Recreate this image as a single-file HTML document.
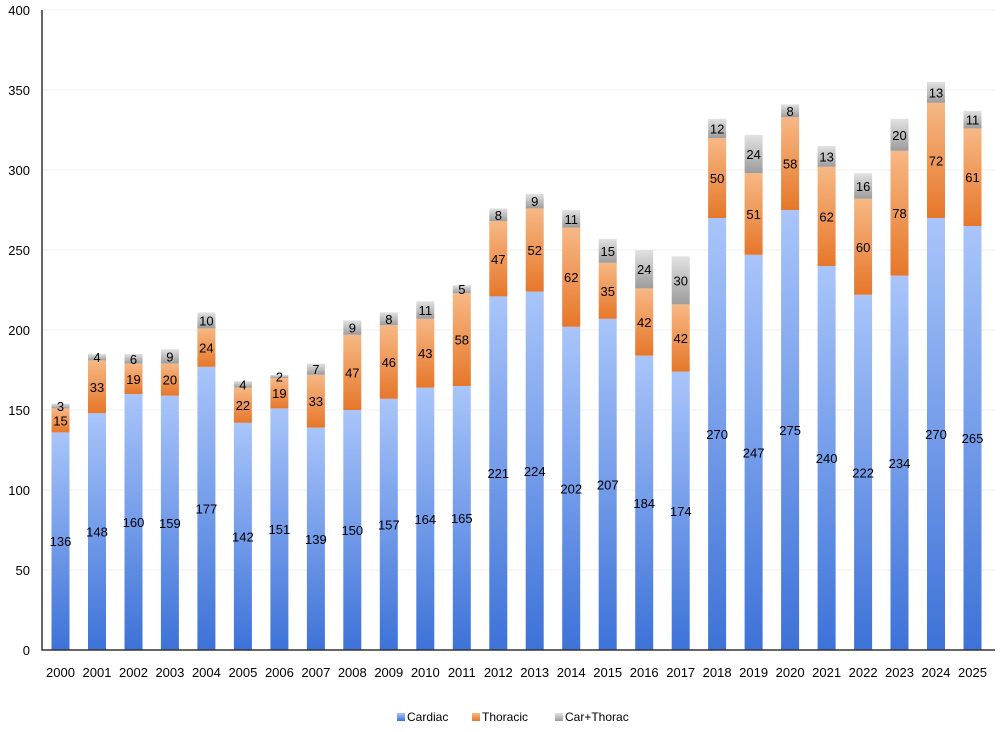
<!DOCTYPE html>
<html><head><meta charset="utf-8"><style>
body{margin:0;background:#fff;}
svg{display:block;font-family:"Liberation Sans",sans-serif;}
</style></head><body>
<svg width="1000" height="732" viewBox="0 0 1000 732">
<defs>
<linearGradient id="gc" x1="0" y1="0" x2="0" y2="1"><stop offset="0" stop-color="#a9c5fa"/><stop offset="1" stop-color="#3d72d8"/></linearGradient>
<linearGradient id="gt" x1="0" y1="0" x2="0" y2="1"><stop offset="0" stop-color="#f7b885"/><stop offset="1" stop-color="#e6772a"/></linearGradient>
<linearGradient id="gk" x1="0" y1="0" x2="0" y2="1"><stop offset="0" stop-color="#e2e2e2"/><stop offset="1" stop-color="#9c9c9c"/></linearGradient>
<symbol id="b"/>
</defs>
<g stroke="#f2f2f2" stroke-width="1">
<line x1="42" y1="570" x2="995" y2="570"/><line x1="42" y1="490" x2="995" y2="490"/><line x1="42" y1="410" x2="995" y2="410"/><line x1="42" y1="330" x2="995" y2="330"/><line x1="42" y1="250" x2="995" y2="250"/><line x1="42" y1="170" x2="995" y2="170"/><line x1="42" y1="90" x2="995" y2="90"/><line x1="42" y1="10" x2="995" y2="10"/>
</g>
<g font-size="13" text-anchor="end" fill="#000">
<text x="30" y="655">0</text><text x="30" y="575">50</text><text x="30" y="495">100</text><text x="30" y="415">150</text><text x="30" y="335">200</text><text x="30" y="255">250</text><text x="30" y="175">300</text><text x="30" y="95">350</text><text x="30" y="15">400</text>
</g>
<g id="bars">
<g transform="translate(60.5,650)"><g transform="scale(1,1.6)"><rect x="-9" width="18" y="-136" height="136" fill="url(#gc)"/><rect x="-9" width="18" y="-151" height="15" fill="url(#gt)"/><rect x="-9" width="18" y="-154" height="3" fill="url(#gk)"/></g></g>
<g transform="translate(97,650)"><g transform="scale(1,1.6)"><rect x="-9" width="18" y="-148" height="148" fill="url(#gc)"/><rect x="-9" width="18" y="-181" height="33" fill="url(#gt)"/><rect x="-9" width="18" y="-185" height="4" fill="url(#gk)"/></g></g>
<g transform="translate(133.5,650)"><g transform="scale(1,1.6)"><rect x="-9" width="18" y="-160" height="160" fill="url(#gc)"/><rect x="-9" width="18" y="-179" height="19" fill="url(#gt)"/><rect x="-9" width="18" y="-185" height="6" fill="url(#gk)"/></g></g>
<g transform="translate(169.9,650)"><g transform="scale(1,1.6)"><rect x="-9" width="18" y="-159" height="159" fill="url(#gc)"/><rect x="-9" width="18" y="-179" height="20" fill="url(#gt)"/><rect x="-9" width="18" y="-188" height="9" fill="url(#gk)"/></g></g>
<g transform="translate(206.4,650)"><g transform="scale(1,1.6)"><rect x="-9" width="18" y="-177" height="177" fill="url(#gc)"/><rect x="-9" width="18" y="-201" height="24" fill="url(#gt)"/><rect x="-9" width="18" y="-211" height="10" fill="url(#gk)"/></g></g>
<g transform="translate(242.9,650)"><g transform="scale(1,1.6)"><rect x="-9" width="18" y="-142" height="142" fill="url(#gc)"/><rect x="-9" width="18" y="-164" height="22" fill="url(#gt)"/><rect x="-9" width="18" y="-168" height="4" fill="url(#gk)"/></g></g>
<g transform="translate(279.4,650)"><g transform="scale(1,1.6)"><rect x="-9" width="18" y="-151" height="151" fill="url(#gc)"/><rect x="-9" width="18" y="-170" height="19" fill="url(#gt)"/><rect x="-9" width="18" y="-172" height="2" fill="url(#gk)"/></g></g>
<g transform="translate(315.9,650)"><g transform="scale(1,1.6)"><rect x="-9" width="18" y="-139" height="139" fill="url(#gc)"/><rect x="-9" width="18" y="-172" height="33" fill="url(#gt)"/><rect x="-9" width="18" y="-179" height="7" fill="url(#gk)"/></g></g>
<g transform="translate(352.3,650)"><g transform="scale(1,1.6)"><rect x="-9" width="18" y="-150" height="150" fill="url(#gc)"/><rect x="-9" width="18" y="-197" height="47" fill="url(#gt)"/><rect x="-9" width="18" y="-206" height="9" fill="url(#gk)"/></g></g>
<g transform="translate(388.8,650)"><g transform="scale(1,1.6)"><rect x="-9" width="18" y="-157" height="157" fill="url(#gc)"/><rect x="-9" width="18" y="-203" height="46" fill="url(#gt)"/><rect x="-9" width="18" y="-211" height="8" fill="url(#gk)"/></g></g>
<g transform="translate(425.3,650)"><g transform="scale(1,1.6)"><rect x="-9" width="18" y="-164" height="164" fill="url(#gc)"/><rect x="-9" width="18" y="-207" height="43" fill="url(#gt)"/><rect x="-9" width="18" y="-218" height="11" fill="url(#gk)"/></g></g>
<g transform="translate(461.8,650)"><g transform="scale(1,1.6)"><rect x="-9" width="18" y="-165" height="165" fill="url(#gc)"/><rect x="-9" width="18" y="-223" height="58" fill="url(#gt)"/><rect x="-9" width="18" y="-228" height="5" fill="url(#gk)"/></g></g>
<g transform="translate(498.3,650)"><g transform="scale(1,1.6)"><rect x="-9" width="18" y="-221" height="221" fill="url(#gc)"/><rect x="-9" width="18" y="-268" height="47" fill="url(#gt)"/><rect x="-9" width="18" y="-276" height="8" fill="url(#gk)"/></g></g>
<g transform="translate(534.7,650)"><g transform="scale(1,1.6)"><rect x="-9" width="18" y="-224" height="224" fill="url(#gc)"/><rect x="-9" width="18" y="-276" height="52" fill="url(#gt)"/><rect x="-9" width="18" y="-285" height="9" fill="url(#gk)"/></g></g>
<g transform="translate(571.2,650)"><g transform="scale(1,1.6)"><rect x="-9" width="18" y="-202" height="202" fill="url(#gc)"/><rect x="-9" width="18" y="-264" height="62" fill="url(#gt)"/><rect x="-9" width="18" y="-275" height="11" fill="url(#gk)"/></g></g>
<g transform="translate(607.7,650)"><g transform="scale(1,1.6)"><rect x="-9" width="18" y="-207" height="207" fill="url(#gc)"/><rect x="-9" width="18" y="-242" height="35" fill="url(#gt)"/><rect x="-9" width="18" y="-257" height="15" fill="url(#gk)"/></g></g>
<g transform="translate(644.2,650)"><g transform="scale(1,1.6)"><rect x="-9" width="18" y="-184" height="184" fill="url(#gc)"/><rect x="-9" width="18" y="-226" height="42" fill="url(#gt)"/><rect x="-9" width="18" y="-250" height="24" fill="url(#gk)"/></g></g>
<g transform="translate(680.7,650)"><g transform="scale(1,1.6)"><rect x="-9" width="18" y="-174" height="174" fill="url(#gc)"/><rect x="-9" width="18" y="-216" height="42" fill="url(#gt)"/><rect x="-9" width="18" y="-246" height="30" fill="url(#gk)"/></g></g>
<g transform="translate(717.1,650)"><g transform="scale(1,1.6)"><rect x="-9" width="18" y="-270" height="270" fill="url(#gc)"/><rect x="-9" width="18" y="-320" height="50" fill="url(#gt)"/><rect x="-9" width="18" y="-332" height="12" fill="url(#gk)"/></g></g>
<g transform="translate(753.6,650)"><g transform="scale(1,1.6)"><rect x="-9" width="18" y="-247" height="247" fill="url(#gc)"/><rect x="-9" width="18" y="-298" height="51" fill="url(#gt)"/><rect x="-9" width="18" y="-322" height="24" fill="url(#gk)"/></g></g>
<g transform="translate(790.1,650)"><g transform="scale(1,1.6)"><rect x="-9" width="18" y="-275" height="275" fill="url(#gc)"/><rect x="-9" width="18" y="-333" height="58" fill="url(#gt)"/><rect x="-9" width="18" y="-341" height="8" fill="url(#gk)"/></g></g>
<g transform="translate(826.6,650)"><g transform="scale(1,1.6)"><rect x="-9" width="18" y="-240" height="240" fill="url(#gc)"/><rect x="-9" width="18" y="-302" height="62" fill="url(#gt)"/><rect x="-9" width="18" y="-315" height="13" fill="url(#gk)"/></g></g>
<g transform="translate(863.1,650)"><g transform="scale(1,1.6)"><rect x="-9" width="18" y="-222" height="222" fill="url(#gc)"/><rect x="-9" width="18" y="-282" height="60" fill="url(#gt)"/><rect x="-9" width="18" y="-298" height="16" fill="url(#gk)"/></g></g>
<g transform="translate(899.5,650)"><g transform="scale(1,1.6)"><rect x="-9" width="18" y="-234" height="234" fill="url(#gc)"/><rect x="-9" width="18" y="-312" height="78" fill="url(#gt)"/><rect x="-9" width="18" y="-332" height="20" fill="url(#gk)"/></g></g>
<g transform="translate(936,650)"><g transform="scale(1,1.6)"><rect x="-9" width="18" y="-270" height="270" fill="url(#gc)"/><rect x="-9" width="18" y="-342" height="72" fill="url(#gt)"/><rect x="-9" width="18" y="-355" height="13" fill="url(#gk)"/></g></g>
<g transform="translate(972.5,650)"><g transform="scale(1,1.6)"><rect x="-9" width="18" y="-265" height="265" fill="url(#gc)"/><rect x="-9" width="18" y="-326" height="61" fill="url(#gt)"/><rect x="-9" width="18" y="-337" height="11" fill="url(#gk)"/></g></g>
</g>
<g font-size="13" text-anchor="middle" fill="#000">
<g transform="translate(60.5,650)"><text y="-103.8">136</text><text y="-224.6">15</text><text y="-239">3</text></g>
<g transform="translate(97,650)"><text y="-113.4">148</text><text y="-258.2">33</text><text y="-287.8">4</text></g>
<g transform="translate(133.5,650)"><text y="-123">160</text><text y="-266.2">19</text><text y="-286.2">6</text></g>
<g transform="translate(169.9,650)"><text y="-122.2">159</text><text y="-265.4">20</text><text y="-288.6">9</text></g>
<g transform="translate(206.4,650)"><text y="-136.6">177</text><text y="-297.4">24</text><text y="-324.6">10</text></g>
<g transform="translate(242.9,650)"><text y="-108.6">142</text><text y="-239.8">22</text><text y="-260.6">4</text></g>
<g transform="translate(279.4,650)"><text y="-115.8">151</text><text y="-251.8">19</text><text y="-268.6">2</text></g>
<g transform="translate(315.9,650)"><text y="-106.2">139</text><text y="-243.8">33</text><text y="-275.8">7</text></g>
<g transform="translate(352.3,650)"><text y="-115">150</text><text y="-272.6">47</text><text y="-317.4">9</text></g>
<g transform="translate(388.8,650)"><text y="-120.6">157</text><text y="-283">46</text><text y="-326.2">8</text></g>
<g transform="translate(425.3,650)"><text y="-126.2">164</text><text y="-291.8">43</text><text y="-335">11</text></g>
<g transform="translate(461.8,650)"><text y="-127">165</text><text y="-305.4">58</text><text y="-355.8">5</text></g>
<g transform="translate(498.3,650)"><text y="-171.8">221</text><text y="-386.2">47</text><text y="-430.2">8</text></g>
<g transform="translate(534.7,650)"><text y="-174.2">224</text><text y="-395">52</text><text y="-443.8">9</text></g>
<g transform="translate(571.2,650)"><text y="-156.6">202</text><text y="-367.8">62</text><text y="-426.2">11</text></g>
<g transform="translate(607.7,650)"><text y="-160.6">207</text><text y="-354.2">35</text><text y="-394.2">15</text></g>
<g transform="translate(644.2,650)"><text y="-142.2">184</text><text y="-323">42</text><text y="-375.8">24</text></g>
<g transform="translate(680.7,650)"><text y="-134.2">174</text><text y="-307">42</text><text y="-364.6">30</text></g>
<g transform="translate(717.1,650)"><text y="-211">270</text><text y="-467">50</text><text y="-516.6">12</text></g>
<g transform="translate(753.6,650)"><text y="-192.6">247</text><text y="-431">51</text><text y="-491">24</text></g>
<g transform="translate(790.1,650)"><text y="-215">275</text><text y="-481.4">58</text><text y="-534.2">8</text></g>
<g transform="translate(826.6,650)"><text y="-187">240</text><text y="-428.6">62</text><text y="-488.6">13</text></g>
<g transform="translate(863.1,650)"><text y="-172.6">222</text><text y="-398.2">60</text><text y="-459">16</text></g>
<g transform="translate(899.5,650)"><text y="-182.2">234</text><text y="-431.8">78</text><text y="-510.2">20</text></g>
<g transform="translate(936,650)"><text y="-211">270</text><text y="-484.6">72</text><text y="-552.6">13</text></g>
<g transform="translate(972.5,650)"><text y="-207">265</text><text y="-467.8">61</text><text y="-525.4">11</text></g>
</g>
<g font-size="13" text-anchor="middle" fill="#000">
<text x="60.5" y="677">2000</text><text x="97" y="677">2001</text><text x="133.5" y="677">2002</text><text x="169.9" y="677">2003</text><text x="206.4" y="677">2004</text><text x="242.9" y="677">2005</text><text x="279.4" y="677">2006</text><text x="315.9" y="677">2007</text><text x="352.3" y="677">2008</text><text x="388.8" y="677">2009</text><text x="425.3" y="677">2010</text><text x="461.8" y="677">2011</text><text x="498.3" y="677">2012</text><text x="534.7" y="677">2013</text><text x="571.2" y="677">2014</text><text x="607.7" y="677">2015</text><text x="644.2" y="677">2016</text><text x="680.7" y="677">2017</text><text x="717.1" y="677">2018</text><text x="753.6" y="677">2019</text><text x="790.1" y="677">2020</text><text x="826.6" y="677">2021</text><text x="863.1" y="677">2022</text><text x="899.5" y="677">2023</text><text x="936" y="677">2024</text><text x="972.5" y="677">2025</text>
</g>
<line x1="42" y1="10" x2="42" y2="650.5" stroke="#333" stroke-width="1.5"/>
<line x1="41.5" y1="650" x2="995" y2="650" stroke="#333" stroke-width="1.5"/>
<g font-size="12" fill="#000">
<rect x="397" y="713" width="8" height="8" fill="url(#gc)"/><text x="407" y="721">Cardiac</text>
<rect x="472" y="713" width="8" height="8" fill="url(#gt)"/><text x="482" y="721">Thoracic</text>
<rect x="555" y="713" width="8" height="8" fill="url(#gk)"/><text x="565" y="721">Car+Thorac</text>
</g>
</svg>
</body></html>
